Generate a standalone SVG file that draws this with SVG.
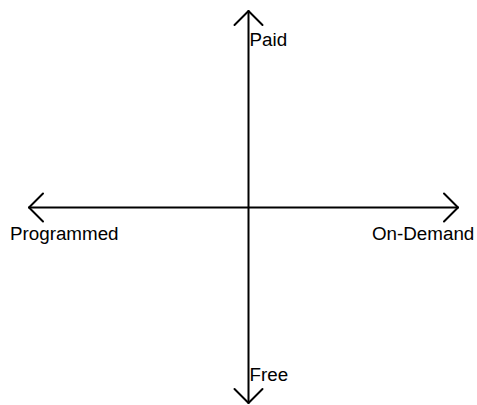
<svg xmlns="http://www.w3.org/2000/svg" width="477" height="405" viewBox="0 0 477 405">
<style>
.ax{stroke:#000;stroke-width:2;fill:none;stroke-linecap:round;stroke-linejoin:round}
.lbl{font-family:"Liberation Sans",Arial,sans-serif;font-size:18.8px;fill:#000}
</style>
<rect width="477" height="405" fill="#fff"/>
<g id="connectors">
<line class="ax" x1="248.5" y1="11" x2="248.5" y2="403"/>
<line class="ax" x1="29" y1="207.5" x2="458" y2="207.5"/>
<polyline class="ax" points="234.5,25 248.5,11 262.5,25"/>
<polyline class="ax" points="234.5,389 248.5,403 262.5,389"/>
<polyline class="ax" points="43,193.5 29,207.5 43,221.5"/>
<polyline class="ax" points="444,193.5 458,207.5 444,221.5"/>
</g>
<g id="paid"><text class="lbl" x="249.5" y="46">Paid</text></g>
<g id="free"><text class="lbl" x="249.5" y="381">Free</text></g>
<g id="programmed"><text class="lbl" x="10" y="240">Programmed</text></g>
<g id="ondemand"><text class="lbl" x="372" y="240">On-Demand</text></g>
</svg>
